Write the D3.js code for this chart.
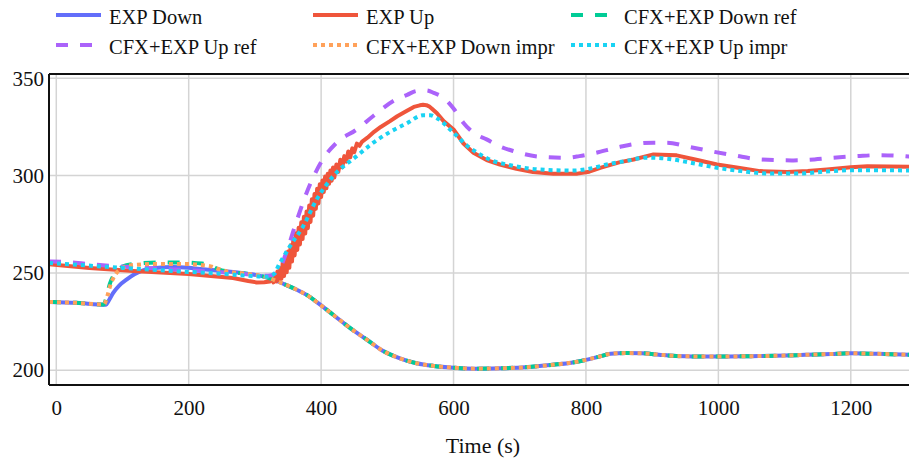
<!DOCTYPE html>
<html><head><meta charset="utf-8">
<script src="https://cdn.jsdelivr.net/npm/d3@7"></script>
<style>body{margin:0;background:#fff}svg{display:block}</style>
</head><body>
<svg id="c" width="909" height="462"></svg>
<script>
const xTicks = [0, 200, 400, 600, 800, 1000, 1200];
const yTicks = [200, 250, 300, 350];
const seriesNames = ["EXP Down", "EXP Up", "CFX+EXP Down ref", "CFX+EXP Up ref", "CFX+EXP Down impr", "CFX+EXP Up impr"];
const seriesColors = ["#636efa", "#EF553B", "#00cc96", "#ab63fa", "#FFA15A", "#19d3f3"];
const seriesDash = ["solid", "solid", "dash", "dash", "dot", "dot"];

// shared tail of all "Down" curves
const downTailT = [325, 340, 358, 380, 398, 420, 444, 470, 491, 520, 544, 570, 600, 632, 670, 708, 750, 780, 800, 820, 837, 860, 884, 910, 931, 960, 1000, 1050, 1100, 1131, 1170, 1200, 1240, 1290];
const downTailV = [246.9, 244.8, 242.2, 238.3, 233.8, 228, 221.6, 215.5, 210.4, 206, 203.6, 202.2, 201.3, 200.8, 201, 201.5, 202.8, 204, 205.3, 207, 208.4, 208.8, 208.7, 208, 207.4, 207.1, 207, 207.2, 207.5, 207.9, 208.3, 208.7, 208.4, 207.9];

const expDownT = [-11, 30, 74.7, 80, 85.7, 95, 106, 118, 131, 150, 176, 200, 217, 240, 267, 290, 312];
const expDownV = [235.1, 234.6, 233.6, 236.2, 239.6, 243.5, 246.5, 249.3, 251.3, 252.5, 253, 252.6, 252, 251.4, 250.5, 249.5, 248.2];

const expUpT = [-11, 50, 116, 200, 267, 290, 302.5, 314, 322.6,
  326, 328, 330, 332, 334, 336, 338, 340, 342, 344, 346, 348, 350, 352, 354, 356, 358, 360, 362, 364, 366, 368, 370, 372, 374, 376, 378, 380,
  382, 384, 386, 388, 390, 392, 394, 396, 398, 400, 402, 404, 406, 408, 410, 412, 414, 416, 418, 420, 423, 426, 429, 432, 435, 438, 441, 444, 447, 450, 454, 458, 462,
  470, 480, 490, 504, 515, 529, 540, 549, 554, 559, 563, 567, 575, 585, 600, 615, 630, 650, 670, 695, 720, 751, 787, 805, 821.5, 850, 872, 902, 937, 965, 998, 1030, 1063, 1104, 1135, 1164, 1200, 1225, 1290];
const expUpV = [254.4, 252.5, 251, 249.4, 247.4, 245.8, 245.1, 245.2, 245.6,
  247.5, 245.1, 249, 245.6, 250.7, 246.3, 252.4, 247, 255.2, 248.4, 258.1, 250.3, 261, 252.6, 264.2, 255.8, 267.4, 259, 270.4, 261.8, 273.2, 264.6, 276, 267.4, 278.8, 270.2, 281.6, 273,
  284.6, 276.2, 287.8, 279.4, 290.5, 282.9, 293.3, 285.7, 295.6, 289, 297.5, 291.5, 299.5, 293.5, 301, 295.8, 302.6, 297.4, 304.2, 299, 305.7, 301.9, 308.1, 304.3, 310, 307.2, 312.4, 309.4, 314, 312, 316.4, 315.3, 317.5,
  319.5, 322.5, 325, 328, 330.5, 333.2, 335.3, 336.1, 336.4, 336.2, 335.6, 334.5, 332, 328, 323.7, 316.5, 311.7, 308, 305.7, 303.5, 301.8, 301, 301, 302, 304, 306.8, 308.3, 310.9, 310.4, 308.3, 305.7, 304, 302.3, 301.8, 302.3, 303.1, 304.3, 304.8, 304.5];

const downRefT = [-11, 30, 72, 76, 81, 88, 98, 106, 130, 151, 191, 220, 235, 245, 260, 290, 312];
const downRefV = [235.1, 234.6, 233.8, 238, 244.5, 249.5, 252.8, 254, 255, 255.4, 255.4, 254.8, 253.5, 251.8, 250.6, 249.5, 248.2];

const upRefT = [-11, 20, 60, 150, 250, 300, 320, 335, 348, 360.4, 378, 390, 400.8, 423.4, 453.7, 478.8, 509, 530, 544.3, 559, 570, 584.6, 600, 614.8, 630, 650, 670, 690.4, 730.8, 771, 790, 811, 851.8, 875, 902, 922, 955, 987.8, 1025, 1063, 1113.7, 1145, 1174, 1210, 1239.8, 1265, 1290];
const upRefV = [255.9, 255.5, 254.2, 252.3, 250.3, 249, 248.5, 251, 261, 274, 291.1, 300.5, 307.4, 316.9, 323.7, 330.6, 338.3, 341.5, 343.5, 343.8, 342.5, 340.1, 334.5, 327.2, 322, 318.6, 315, 312.6, 309.7, 309.2, 310, 311.4, 314.8, 316.3, 316.9, 316.9, 314.8, 312.6, 310.3, 308.3, 307.8, 308.3, 309.2, 310, 310.5, 310.3, 309.7];

const downImprT = [-11, 30, 72, 77, 82, 90, 100, 110, 150, 190, 230, 245, 260, 290, 312];
const downImprV = [235.1, 234.6, 233.8, 238, 244, 249.5, 252.5, 253.8, 254.6, 254.6, 253.6, 252, 250.6, 249.5, 248.2];

const upImprT = [-11, 60, 150, 250, 300, 317, 327.6, 337.7, 352.8, 372.9, 393.2, 418.3, 453.7, 478.8, 504, 529, 554, 565, 575, 600, 620, 640, 660, 680.4, 730.8, 781, 805, 831.6, 860, 892, 922, 960, 998, 1035, 1073.5, 1124, 1160, 1199.7, 1240, 1290];
const upImprV = [255.1, 253.5, 251.5, 249.5, 248.3, 248, 249.1, 255.1, 263.6, 274, 287.7, 299.7, 310, 316.9, 322.4, 326.8, 331, 331, 329.5, 322, 315.5, 310.9, 307.5, 305.7, 303.1, 302.6, 303.5, 305.7, 307.5, 309.2, 308.7, 306.5, 304, 302.3, 301.1, 301.1, 302, 302.8, 302.8, 302.6];

const zip = (t, v) => t.map((x, i) => ({t: x, v: v[i]}));
const withTail = (t, v) => zip(t, v).concat(zip(downTailT, downTailV));
const seriesData = [
  withTail(expDownT, expDownV),
  zip(expUpT, expUpV),
  withTail(downRefT, downRefV),
  zip(upRefT, upRefV),
  withTail(downImprT, downImprV),
  zip(upImprT, upImprV)
];

const L = 49, R = 917, T = 74, B = 385;
const x = d3.scaleLinear().domain([-11, 1300]).range([L, R]);
const y = d3.scaleLinear().domain([192.4, 352.2]).range([B, T]);
const svg = d3.select("#c");
const font = "'Liberation Serif', 'Times New Roman', serif";

svg.append("clipPath").attr("id", "clip").append("rect")
  .attr("x", L).attr("y", T).attr("width", 909 - L).attr("height", B - T);

// grid
const g = svg.append("g");
g.selectAll(".gx").data(xTicks).join("line")
  .attr("x1", d => x(d)).attr("x2", d => x(d)).attr("y1", T).attr("y2", B)
  .attr("stroke", "#d4d4d4").attr("stroke-width", 1.5);
g.selectAll(".gy").data(yTicks).join("line")
  .attr("x1", L).attr("x2", 909).attr("y1", d => y(d)).attr("y2", d => y(d))
  .attr("stroke", "#d4d4d4").attr("stroke-width", 1.5);

const dashArr = d => d === "dash" ? "12,12" : d === "dot" ? "4,4" : null;
const smooth = d3.line().x(d => x(d.t)).y(d => y(d.v)).curve(d3.curveMonotoneX);
const straight = d3.line().x(d => x(d.t)).y(d => y(d.v)).curve(d3.curveLinear);
const lines = svg.append("g").attr("clip-path", "url(#clip)");
seriesData.forEach((data, i) => {
  lines.append("path").datum(data).attr("d", i === 1 ? straight : smooth)
    .attr("fill", "none").attr("stroke", seriesColors[i]).attr("stroke-width", 4)
    .attr("stroke-dasharray", dashArr(seriesDash[i]))
    .attr("stroke-linejoin", "round");
});

// axis lines
svg.append("line").attr("x1", L).attr("x2", L).attr("y1", T).attr("y2", B).attr("stroke", "#111").attr("stroke-width", 2);
svg.append("line").attr("x1", L).attr("x2", 909).attr("y1", T).attr("y2", T).attr("stroke", "#111").attr("stroke-width", 2);
svg.append("line").attr("x1", L).attr("x2", 909).attr("y1", B).attr("y2", B).attr("stroke", "#111").attr("stroke-width", 2);

// axes via d3 axis
const xAxis = svg.append("g").attr("transform", `translate(0,${B})`)
  .call(d3.axisBottom(x).tickValues(xTicks).tickSize(0).tickPadding(15).tickFormat(d3.format("d")));
const yAxis = svg.append("g").attr("transform", `translate(${L},0)`)
  .call(d3.axisLeft(y).tickValues(yTicks).tickSize(0).tickPadding(5).tickFormat(d3.format("d")));
[xAxis, yAxis].forEach(a => {
  a.select(".domain").remove();
  a.selectAll("text").attr("font-family", font).attr("font-size", 21).attr("fill", "#111");
});

svg.append("text").attr("x", 483).attr("y", 453).attr("text-anchor", "middle")
  .attr("font-family", font).attr("font-size", 22).attr("fill", "#111").text("Time (s)");

// legend
const legX = [56, 313, 571], legY = [15, 45];
seriesNames.forEach((n, i) => {
  const cx = legX[i % 3], cy = legY[Math.floor(i / 3)];
  svg.append("line").attr("x1", cx).attr("x2", cx + 45).attr("y1", cy).attr("y2", cy)
    .attr("stroke", seriesColors[i]).attr("stroke-width", 4)
    .attr("stroke-dasharray", dashArr(seriesDash[i]));
  svg.append("text").attr("x", cx + 53).attr("y", cy + 8.5)
    .attr("font-family", font).attr("font-size", 20.5).attr("fill", "#111").text(n);
});
</script>
</body></html>
